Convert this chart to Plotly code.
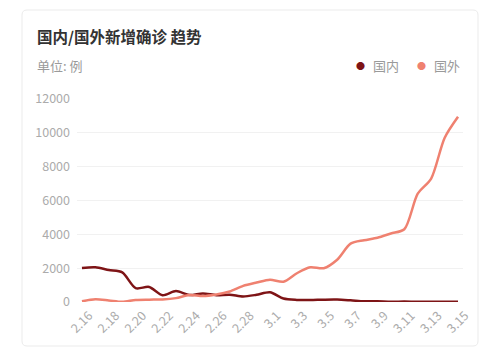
import plotly.graph_objects as go

dates = ["2.16", "2.17", "2.18", "2.19", "2.20", "2.21", "2.22", "2.23", "2.24", "2.25",
         "2.26", "2.27", "2.28", "2.29", "3.1", "3.2", "3.3", "3.4", "3.5", "3.6",
         "3.7", "3.8", "3.9", "3.10", "3.11", "3.12", "3.13", "3.14", "3.15"]
domestic = [2009, 2048, 1886, 1749, 820, 889, 397, 648, 409, 508,
            406, 433, 327, 427, 573, 202, 125, 119, 139, 143,
            99, 44, 40, 19, 24, 15, 8, 11, 20]
foreign = [40, 160, 90, 10, 120, 140, 150, 230, 420, 350,
           440, 620, 950, 1150, 1320, 1200, 1700, 2050, 2000, 2500,
           3450, 3650, 3800, 4050, 4300, 6400, 7300, 9700, 10950]
tick_labels = dates[::2]
yticks = [0, 2000, 4000, 6000, 8000, 10000, 12000]

C_DOM = "#7e1416"
C_FOR = "#ef8170"
FONT = "Noto Sans CJK SC"

W, H = 500, 358
L, R, T, B = 77, 37, 99, 56
PW, PH = W - L - R, H - T - B

def px(x):
    return (x - L) / PW

def py(y):
    return (H - B - y) / PH

fig = go.Figure()
fig.add_trace(go.Scatter(x=dates, y=domestic, mode="lines", name="国内",
                         line=dict(color=C_DOM, width=2.5, shape="spline", smoothing=0.8),
                         showlegend=False, hoverinfo="skip"))
fig.add_trace(go.Scatter(x=dates, y=foreign, mode="lines", name="国外",
                         line=dict(color=C_FOR, width=2.5, shape="spline", smoothing=0.8),
                         showlegend=False, hoverinfo="skip"))

# card with rounded corners
x0, x1, y0, y1, r = 22, 478, 10, 346, 5
rx, ry = r / PW, r / PH
X0, X1, Y0, Y1 = px(x0), px(x1), py(y1), py(y0)
path = (f"M {X0+rx},{Y1} L {X1-rx},{Y1} Q {X1},{Y1} {X1},{Y1-ry} "
        f"L {X1},{Y0+ry} Q {X1},{Y0} {X1-rx},{Y0} L {X0+rx},{Y0} "
        f"Q {X0},{Y0} {X0},{Y0+ry} L {X0},{Y1-ry} Q {X0},{Y1} {X0+rx},{Y1} Z")
fig.add_shape(type="path", path=path, xref="paper", yref="paper",
              line=dict(color="#ebebeb", width=1), fillcolor="white", layer="below")

ann = [
    dict(text="<b>国内/国外新增确诊 趋势</b>", x=px(35), y=py(36), xanchor="left", yanchor="middle",
         font=dict(size=15.5, color="#333333", family=FONT)),
    dict(text="单位: 例", x=px(35), y=py(65), xanchor="left", yanchor="middle",
         font=dict(size=13, color="#9a9a9a", family=FONT)),
    dict(text="●", x=px(360), y=py(65), xanchor="center", yanchor="middle",
         font=dict(size=9, color=C_DOM, family=FONT)),
    dict(text="国内", x=px(371), y=py(65), xanchor="left", yanchor="middle",
         font=dict(size=13, color="#9a9a9a", family=FONT)),
    dict(text="●", x=px(421), y=py(65), xanchor="center", yanchor="middle",
         font=dict(size=9, color=C_FOR, family=FONT)),
    dict(text="国外", x=px(432), y=py(65), xanchor="left", yanchor="middle",
         font=dict(size=13, color="#9a9a9a", family=FONT)),
]
for a in ann:
    fig.add_annotation(xref="paper", yref="paper", showarrow=False, **a)

fig.update_layout(
    width=W, height=H,
    margin=dict(l=L, r=R, t=T, b=B, pad=0),
    paper_bgcolor="white", plot_bgcolor="rgba(0,0,0,0)",
    font=dict(family=FONT),
    xaxis=dict(type="category", range=[-0.37, 28.37], tickmode="array",
               tickvals=tick_labels, ticktext=tick_labels, tickangle=-45,
               showgrid=False, zeroline=False, showline=False, ticks="",
               ticklabelshift=7, ticklabelstandoff=3,
               tickfont=dict(size=12.5, color="#ababab")),
    yaxis=dict(range=[0, 12000], tickvals=yticks, tickformat="d",
               showgrid=True, gridcolor="#f1f1f1", gridwidth=1, zeroline=False,
               showline=False, ticks="", ticklabelstandoff=6,
               tickfont=dict(size=12.5, color="#ababab")),
)

fig.write_html("out.html", config={"displayModeBar": False},
               post_script="document.body.style.margin='0';document.body.style.overflow='hidden';")
